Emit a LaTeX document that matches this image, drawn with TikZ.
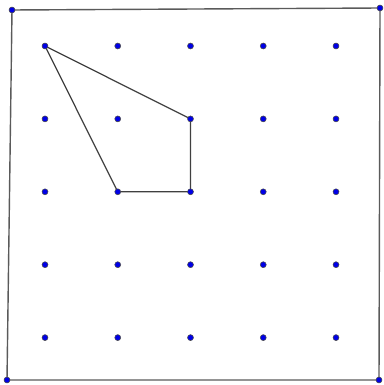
\documentclass[tikz,border=0pt]{standalone}
\usetikzlibrary{backgrounds}
\definecolor{dotBlue}{RGB}{0,0,230}
\definecolor{edgeGray}{RGB}{90,90,90}
\tikzset{
    pt/.style={circle,fill=dotBlue,draw=black!70,line width=0.3pt,inner sep=0pt,minimum size=3.4pt},
    frame/.style={draw=edgeGray,line width=0.8pt},
    poly/.style={draw=black!75,line width=0.7pt}
}
\begin{document}
\begin{tikzpicture}[x=0.02cm,y=-0.02cm]
    \useasboundingbox (0,0) rectangle (383,385);
    % frame corners
    \node[pt] (tl) at (12,10) {};
    \node[pt] (tr) at (380,8) {};
    \node[pt] (br) at (379,380) {};
    \node[pt] (bl) at (7,380) {};
    % grid points
    \foreach \i in {1,...,5}
        \foreach \j in {1,...,5}
            \node[pt] (g\i\j) at ({45+72.75*(\i-1)},{46+72.9*(\j-1)}) {};

    \begin{scope}[on background layer]
        \draw[frame] (tl.center) -- (tr.center) -- (br.center) -- (bl.center) -- cycle;
        \draw[poly] (g11.center) -- (g32.center) -- (g33.center) -- (g23.center) -- cycle;
    \end{scope}
\end{tikzpicture}
\end{document}
